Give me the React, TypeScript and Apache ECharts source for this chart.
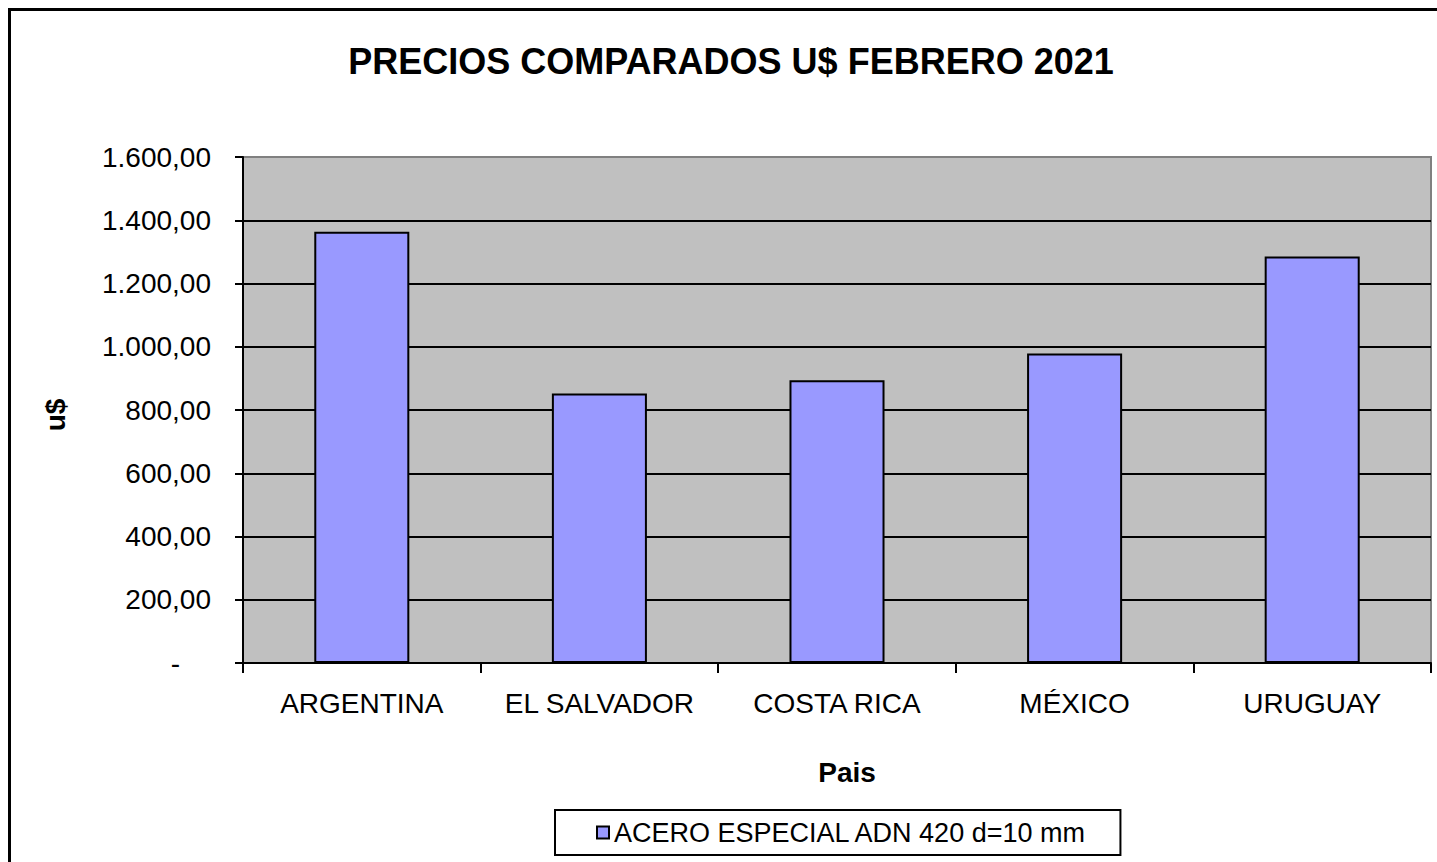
import React, { useEffect, useRef } from "react";
import * as echarts from "echarts";

const categories = ["ARGENTINA", "EL SALVADOR", "COSTA RICA", "MÉXICO", "URUGUAY"];
const seriesName = "ACERO ESPECIAL ADN 420 d=10 mm";
const values = [1364, 852, 894, 979, 1285];
const yTicks = { min: 0, max: 1600, interval: 200 };
const titleText = "PRECIOS COMPARADOS U$ FEBRERO 2021";
const xName = "Pais";
const yName = "u$";

const FONT = "'Liberation Sans', Arial, sans-serif";

function fmt(v: number): string {
  if (v === 0) return "{z|-}";
  const [i, d] = v.toFixed(2).split(".");
  return "{n|" + i.replace(/\B(?=(\d{3})+(?!\d))/g, ".") + "," + d + "}";
}

export default function App() {
  const ref = useRef<HTMLDivElement>(null);
  useEffect(() => {
    if (!ref.current) return;
    const chart = echarts.init(ref.current, null, { renderer: "svg" });
    const splitColors = [
      "#000", "#000", "#000", "#000", "#000", "#000", "#000", "#000", "#808080",
    ];
    chart.setOption({
      animation: false,
      backgroundColor: "#fff",
      title: {
        text: titleText,
        left: 731,
        top: 43,
        textAlign: "center",
        padding: 0,
        textStyle: { fontFamily: FONT, fontSize: 36, fontWeight: "bold", color: "#000" },
      },
      grid: {
        left: 243,
        right: 6,
        top: 157,
        bottom: 199,
        containLabel: false,
        outerBoundsMode: "none",
        show: true,
        backgroundColor: "#C0C0C0",
        borderColor: "#808080",
        borderWidth: 2,
      },
      legend: {
        left: 555,
        top: 810,
        orient: "horizontal",
        padding: [9, 33, 9, 41],
        borderColor: "#000",
        borderWidth: 2,
        backgroundColor: "#fff",
        itemWidth: 12,
        itemHeight: 12,
        itemGap: 5,
        icon: "rect",
        textStyle: { fontFamily: FONT, fontSize: 27, color: "#000" },
        data: [seriesName],
      },
      xAxis: {
        type: "category",
        data: categories,
        axisLine: { show: true, lineStyle: { color: "#000", width: 2 } },
        axisTick: { show: true, length: 10, alignWithLabel: false, lineStyle: { color: "#000", width: 2 } },
        axisLabel: { fontFamily: FONT, fontSize: 28, color: "#000", margin: 26, interval: 0 },
        splitLine: { show: false },
      },
      yAxis: {
        type: "value",
        min: yTicks.min,
        max: yTicks.max,
        interval: yTicks.interval,
        axisLine: { show: true, lineStyle: { color: "#000", width: 2 } },
        axisTick: { show: true, length: 8, lineStyle: { color: "#000", width: 2 } },
        axisLabel: {
          margin: 32,
          formatter: (v: number) => fmt(v),
          rich: {
            n: { fontFamily: FONT, fontSize: 28, color: "#000" },
            z: { fontFamily: FONT, fontSize: 28, color: "#000", padding: [0, 31, 0, 0] },
          },
        },
        splitLine: { show: true, lineStyle: { color: splitColors, width: 2 } },
      },
      graphic: [
        {
          type: "rect",
          shape: { x: 9.5, y: 9.5, width: 1460, height: 900 },
          style: { fill: "none", stroke: "#000", lineWidth: 3 },
          silent: true,
          z: 100,
        },
        {
          type: "text",
          x: 847,
          y: 772,
          style: {
            text: xName,
            fontFamily: FONT,
            fontSize: 28,
            fontWeight: "bold",
            fill: "#000",
            textAlign: "center",
            textVerticalAlign: "middle",
          },
        },
        {
          type: "text",
          x: 55,
          y: 415,
          rotation: Math.PI / 2,
          style: {
            text: yName,
            fontFamily: FONT,
            fontSize: 28,
            fontWeight: "bold",
            fill: "#000",
            textAlign: "center",
            textVerticalAlign: "middle",
          },
        },
      ],
      series: [
        {
          name: seriesName,
          type: "bar",
          data: values,
          barCategoryGap: "60%",
          itemStyle: { color: "#9999FF", borderColor: "#000", borderWidth: 2 },
        },
      ],
    });
    return () => chart.dispose();
  }, []);
  return (
    <div
      ref={ref}
      style={{ position: "fixed", left: 0, top: 0, width: 1437, height: 862 }}
    />
  );
}
